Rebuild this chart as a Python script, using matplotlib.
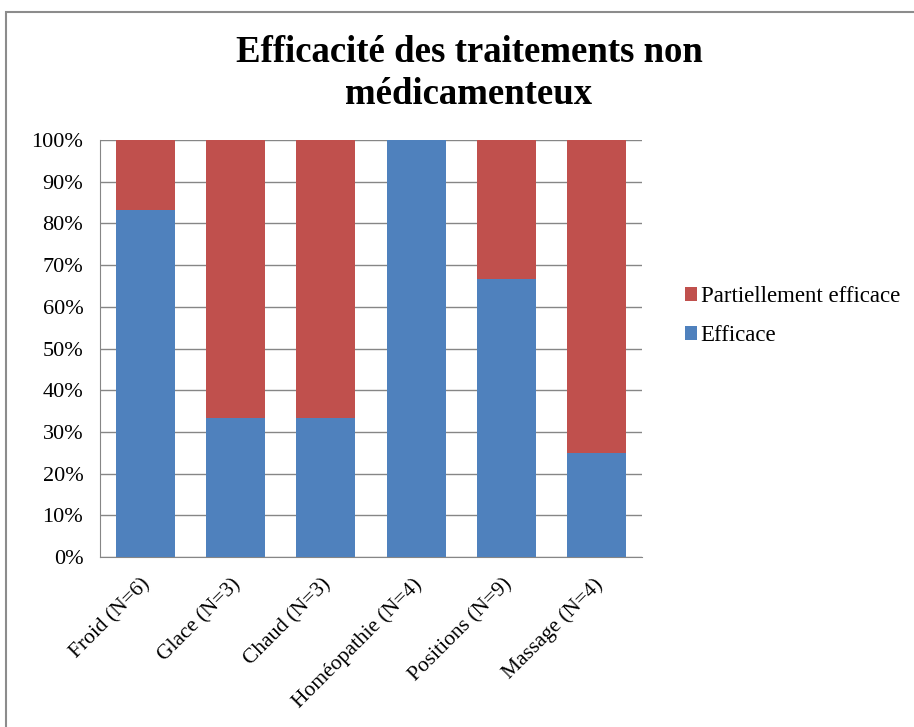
import matplotlib
matplotlib.use("Agg")
import matplotlib.pyplot as plt
from matplotlib.patches import Rectangle
from matplotlib.ticker import PercentFormatter
from matplotlib.transforms import ScaledTranslation

categories = ["Froid (N=6)", "Glace (N=3)", "Chaud (N=3)", "Homéopathie (N=4)",
              "Positions (N=9)", "Massage (N=4)"]
efficace = [83.3, 33.3, 33.3, 100.0, 66.7, 25.0]
partiel = [16.7, 66.7, 66.7, 0.0, 33.3, 75.0]

blue = "#4F81BD"
red = "#C0504D"

plt.rcParams["font.family"] = ["Liberation Serif", "DejaVu Serif"]

W, H = 914, 727
fig = plt.figure(figsize=(W / 100, H / 100), dpi=100)

# chart outer border
fig.patches.append(Rectangle((6 / W, -0.1), 1.2, 1 - 12 / H + 0.1,
                             transform=fig.transFigure, fill=False,
                             edgecolor="#8c8c8c", linewidth=1.5))

ax = fig.add_axes([100 / W, 1 - 557 / H, 542 / W, 417 / H])

x = range(len(categories))
ax.bar(x, efficace, width=0.65, color=blue, label="Efficace", zorder=3)
ax.bar(x, partiel, width=0.65, bottom=efficace, color=red,
       label="Partiellement efficace", zorder=3)

ax.set_xlim(-0.5, len(categories) - 0.5)
ax.set_ylim(0, 100)
ax.set_yticks(range(0, 101, 10))
ax.yaxis.set_major_formatter(PercentFormatter(decimals=0))
ax.grid(axis="y", color="#868686", linewidth=1, zorder=0)

ax.set_xticks(list(x))
ax.set_xticklabels(categories, rotation=45, ha="right", rotation_mode="anchor",
                   fontsize=15.5)
ax.tick_params(axis="x", length=0, pad=13)
ax.tick_params(axis="y", labelsize=16, length=0, pad=12)
shift = ScaledTranslation(-4 / 100, 0, fig.dpi_scale_trans)
for lbl in ax.get_xticklabels():
    lbl.set_transform(lbl.get_transform() + shift)

for side in ["top", "right"]:
    ax.spines[side].set_visible(False)
for side in ["left", "bottom"]:
    ax.spines[side].set_color("#868686")

handles, labels = ax.get_legend_handles_labels()
fig.legend(handles[::-1], labels[::-1], loc="center left",
           bbox_to_anchor=(664 / W, 1 - 316 / H), frameon=False, fontsize=16.5,
           handlelength=0.55, handleheight=0.55, handletextpad=0.15,
           labelspacing=0.8)

fig.text(469 / W, 1 - 52 / H, "Efficacité des traitements non", ha="center",
         va="center", fontsize=26.5, fontweight="bold")
fig.text(469 / W, 1 - 95 / H, "médicamenteux", ha="center",
         va="center", fontsize=26.5, fontweight="bold")

fig.savefig("out.png", dpi=100)
